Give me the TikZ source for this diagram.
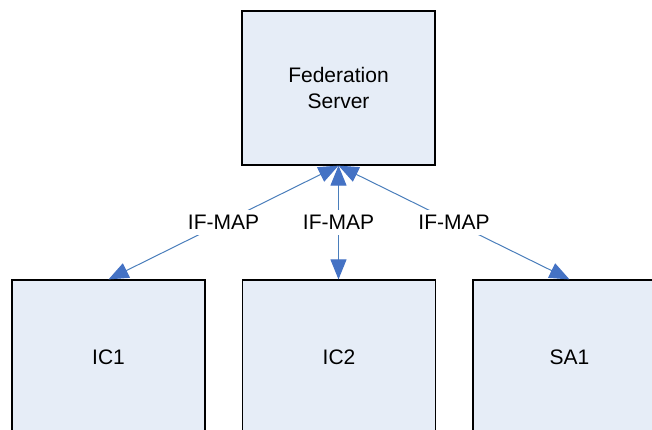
\documentclass[tikz,border=0pt]{standalone}
\usepackage{fontspec}
\setmainfont{Liberation Sans}
\usetikzlibrary{arrows.meta}
\definecolor{boxfill}{HTML}{E6EDF7}
\definecolor{linkblue}{HTML}{4A7EBB}
\definecolor{tipblue}{HTML}{4472C4}
\begin{document}
\begin{tikzpicture}[x=0.75pt,y=-0.75pt,
  box/.style={draw=black, line width=0.9pt, fill=boxfill, minimum width=144.75pt, minimum height=115.5pt, align=center, inner sep=0pt, font=\fontsize{15.75pt}{20pt}\selectfont},
  link/.style={draw=linkblue, line width=0.75pt, {Triangle[length=15pt,width=12pt,color=tipblue]}-{Triangle[length=15pt,width=12pt,color=tipblue]}},
  lbl/.style={fill=white, inner sep=4pt, font=\fontsize{15.75pt}{20pt}\selectfont}]
\useasboundingbox (0,0) rectangle (652,429);
\clip (0,0) rectangle (652,429);
\node[box] (fs) at (338.5,88) {Federation\\Server};
\node[box] (ic1) at (108.5,357) {IC1};
\node[box] (ic2) at (339,357) {IC2};
\node[box] (sa1) at (569.5,357) {SA1};
\draw[link] (fs.south) -- node[lbl] {IF-MAP} (ic1.north);
\draw[link] (fs.south) -- node[lbl] {IF-MAP} (fs.south |- ic2.north);
\draw[link] (fs.south) -- node[lbl] {IF-MAP} (sa1.north);
\end{tikzpicture}
\end{document}
